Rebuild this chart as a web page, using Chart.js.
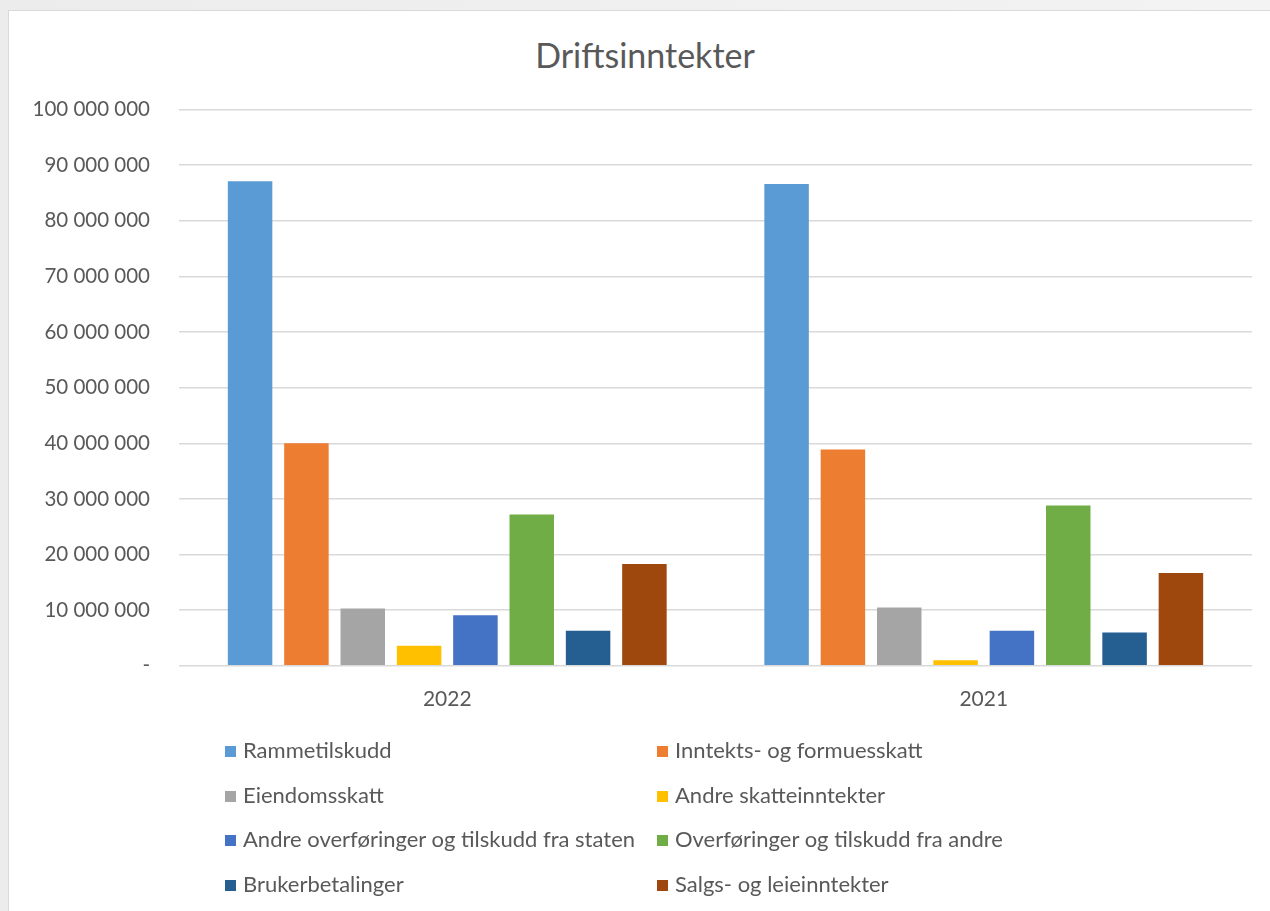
<!DOCTYPE html>
<html lang="no">
<head>
<meta charset="UTF-8">
<title>Driftsinntekter</title>
<script src="https://cdn.jsdelivr.net/npm/chart.js"></script>
<style>
    body {
        margin: 0;
        background: linear-gradient(to right, #ececec, #f3f3f3);
        width: 1270px;
        height: 911px;
        overflow: hidden;
        font-family: 'Lato', sans-serif;
    }
    .box {
        position: absolute;
        left: 8px;
        top: 10px;
        width: 1300px;
        height: 950px;
        background: #fff;
        border: 1px solid #d9d9d9;
    }
    #chartWrap {
        position: absolute;
        left: 0;
        top: 0;
        width: 1261px;
        height: 900px;
    }
    .title {
        position: absolute;
        left: 0;
        width: 1272px;
        top: 24px;
        text-align: center;
        color: #595959;
        font-size: 34px;
        line-height: 40px;
    }
    .legend-item {
        position: absolute;
        color: #595959;
        font-size: 22px;
        white-space: nowrap;
        line-height: 24px;
    }
    .legend-item span {
        display: inline-block;
        width: 11px;
        height: 11px;
        margin-right: 7px;
        vertical-align: 1px;
    }
</style>
</head>
<body>
<div class="box">
    <div class="title">Driftsinntekter</div>
    <div id="chartWrap"><canvas id="chart"></canvas></div>
    <div id="legend"></div>
</div>

<script>
    // data
    const years = ['2022', '2021'];
    const seriesNames = [
        'Rammetilskudd',
        'Inntekts- og formuesskatt',
        'Eiendomsskatt',
        'Andre skatteinntekter',
        'Andre overføringer og tilskudd fra staten',
        'Overføringer og tilskudd fra andre',
        'Brukerbetalinger',
        'Salgs- og leieinntekter'
    ];
    const values2022 = [87100000, 40000000, 10300000, 3600000, 9100000, 27200000, 6300000, 18300000];
    const values2021 = [86600000, 38900000, 10500000, 1000000, 6300000, 28800000, 6000000, 16700000];
    const colors = ['#5B9BD5', '#ED7D31', '#A5A5A5', '#FFC000', '#4472C4', '#70AD47', '#255E91', '#9E480E'];

    const textColor = '#595959';
    const gridColor = '#d9d9d9';

    const datasets = seriesNames.map((name, i) => ({
        label: name,
        data: [values2022[i], values2021[i]],
        backgroundColor: colors[i],
        categoryPercentage: 0.84,
        barPercentage: 0.79
    }));

    function fmt(v) {
        if (v === 0) return '-';
        return String(v).replace(/\B(?=(\d{3})+(?!\d))/g, ' ');
    }

    new Chart(document.getElementById('chart'), {
        type: 'bar',
        data: { labels: years, datasets: datasets },
        options: {
            responsive: true,
            maintainAspectRatio: false,
            animation: false,
            layout: { padding: { left: 0, right: 18, top: 98.5, bottom: 186 } },
            plugins: {
                legend: { display: false },
                tooltip: { enabled: false }
            },
            scales: {
                x: {
                    grid: { display: false },
                    border: { display: false },
                    ticks: {
                        color: textColor,
                        font: { family: 'Lato', size: 21 },
                        padding: 13
                    }
                },
                y: {
                    min: 0,
                    max: 100000000,
                    afterFit: (scale) => { scale.width = 170; },
                    grid: { color: gridColor, lineWidth: 1.5, drawTicks: false },
                    border: { display: false },
                    ticks: {
                        stepSize: 10000000,
                        color: textColor,
                        font: { family: 'Lato', size: 20.5 },
                        padding: 29,
                        callback: (v) => fmt(v)
                    }
                }
            }
        }
    });

    // two-column legend like the original
    const legend = document.getElementById('legend');
    seriesNames.forEach((name, i) => {
        const col = i % 2;
        const row = Math.floor(i / 2);
        const item = document.createElement('div');
        item.className = 'legend-item';
        item.style.left = (col === 0 ? 216 : 648) + 'px';
        item.style.top = (727 + row * 44.7) + 'px';
        item.innerHTML = '<span style="background:' + colors[i] + '"></span>' + name;
        legend.appendChild(item);
    });
</script>
</body>
</html>
